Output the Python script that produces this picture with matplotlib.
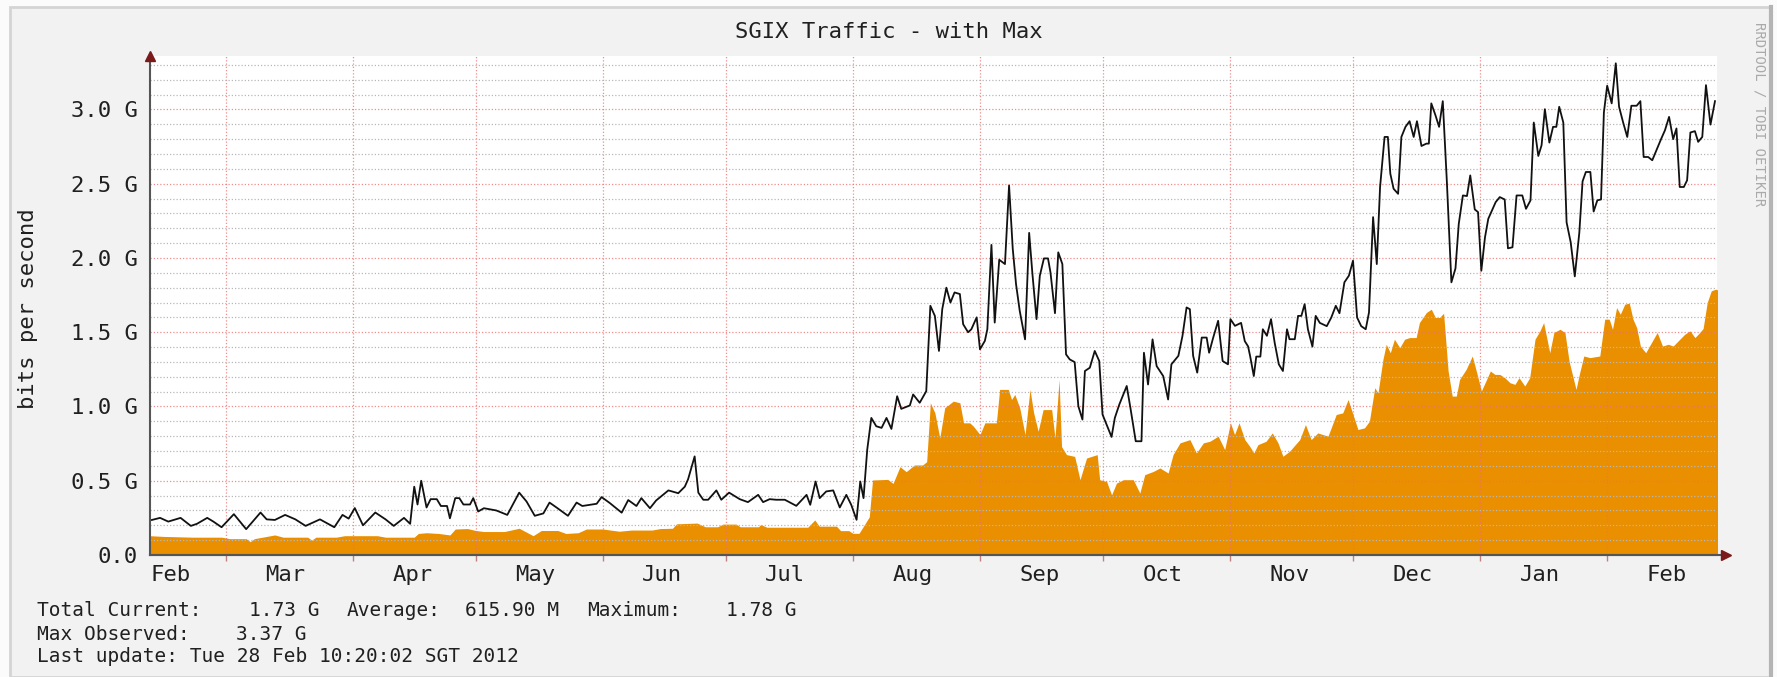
import matplotlib
matplotlib.use("Agg")
import matplotlib.pyplot as plt
import matplotlib.dates as mdates
from matplotlib.patches import Rectangle
from matplotlib.lines import Line2D
import numpy as np
import pandas as pd

# ---- data, days counted from 2011-02-11, values in Gbit/s
START = "2011-02-11"
X_FROM = "2011-02-10 13:00"
X_TO = "2012-02-27 19:00"

max_days = [0, 2, 4, 7, 9.5, 11, 13.5, 15, 17, 20, 23, 26.5, 28, 30, 32.5, 35, 37.5, 41, 44.5, 46.5,
            48, 49.5, 51.5, 54.5, 57, 59, 61.5, 63, 64, 64.8, 65.7, 67,
            68, 69.5, 70.5, 72, 72.7, 74, 75, 76, 77.6, 78.4, 79.6, 81, 84, 86.7, 89.6, 91.4, 93.4, 95.5,
            97, 98.7, 101.5, 103.6, 105, 108.5, 109.7, 111.7, 114.6, 116.2, 118.2, 119.4, 121.5, 123, 126,
            128.4, 130, 130.8, 132.4, 133.3,
            134.5, 135.7, 137.7, 138.9, 140.8, 143.4, 145.4, 147.9, 149.1, 150.7, 152.3, 154.4, 157.2,
            159.7, 160.6, 161.9, 162.9, 164.5, 166.2, 167.8, 169.4, 170.6, 171.9, 172.8, 173.6, 174.5,
            175.5, 176.7, 178, 179.2, 180.4, 181.8, 182.8, 184.9, 185.7, 187.3, 188.9, 189.9, 191, 192,
            192.8, 193.8, 194.8, 195.8,
            197.1, 197.9, 199.1, 199.9, 201.2, 202, 203.2, 203.8, 204.8, 205.6, 206.7, 208.1, 209.1, 210,
            210.8, 211.7, 213, 214, 214.8, 215.8, 216.6, 217.6, 218.6, 219.2, 220.3, 221.1, 222.1, 223,
            223.9, 225.1, 226, 227, 227.6, 228.8, 230, 231.1, 231.9, 232.9, 234.1, 234.9, 236, 237.8,
            238.7, 240, 241.4, 242, 243, 244.1, 245.1, 246.7, 247.9, 248.7, 250.4, 251.4, 252.4, 253.2,
            254, 255, 256.1, 257.3, 257.9, 258.9, 260.1, 261.2, 262.5, 263.1, 264.2,
            265.7, 266.6, 267.4, 267.9, 268.8, 269.4, 270.4, 271, 272, 273, 273.9, 274.9, 275.9, 276.9,
            277.5, 278.8, 279.6, 280.4, 281.2, 282, 283.1, 283.9, 284.9, 286.6, 287.7, 288.8, 289.7,
            290.9, 292, 293, 294, 295, 296.1, 296.9, 297.9, 298.8, 299.6, 300.7, 301.5, 302.1, 302.9,
            304, 304.8, 305.8, 306.8, 307.8, 308.6, 309.7, 310.9, 311.5, 312.1, 313.1, 314, 314.9,
            315.9, 317, 318, 318.8, 319.8, 320.8, 321.6,
            322.7, 323.5, 324.3, 325.2, 326, 326.8, 327.8, 328.8, 330, 330.8, 331.9, 332.9, 334.3,
            335.2, 336.3, 337.1, 338.2, 339, 339.8, 340.9, 341.8, 342.6, 343.3, 344.3, 345.1, 346.1,
            347.1, 348.2, 349, 349.8, 350.9, 351.7, 352.6, 353.5, 354.2, 355, 356.1, 357.1, 357.9,
            358.9, 359.9, 360.9, 362.2, 363.1, 363.9, 365, 366, 367, 368.2, 369.1, 370.1, 371.1,
            371.9, 372.7, 373.7, 374.5, 375.3, 376.4, 377.2, 378.2, 379.1, 380.2, 381.3]
max_gbps = [0.236, 0.25, 0.225, 0.25, 0.196, 0.21, 0.25, 0.225, 0.187, 0.275, 0.174, 0.286, 0.24, 0.236,
            0.27, 0.24, 0.196, 0.24, 0.187, 0.27, 0.245, 0.316, 0.2, 0.286, 0.24, 0.196, 0.25, 0.21,
            0.46, 0.34, 0.5, 0.32,
            0.376, 0.376, 0.33, 0.33, 0.247, 0.383, 0.383, 0.34, 0.34, 0.383, 0.293, 0.315, 0.3, 0.27,
            0.42, 0.36, 0.264, 0.28, 0.353, 0.32, 0.264, 0.353, 0.33, 0.345, 0.39, 0.35, 0.285, 0.37,
            0.33, 0.383, 0.315, 0.367, 0.435, 0.416, 0.46, 0.51, 0.664, 0.42,
            0.372, 0.372, 0.435, 0.372, 0.42, 0.376, 0.356, 0.405, 0.356, 0.376, 0.372, 0.372, 0.331,
            0.405, 0.338, 0.495, 0.383, 0.428, 0.435, 0.32, 0.405, 0.338, 0.237, 0.495, 0.383, 0.709,
            0.923, 0.867, 0.856, 0.923, 0.849, 1.069, 0.984, 1.007, 1.081, 1.025, 1.103, 1.678, 1.61,
            1.374, 1.655, 1.8, 1.7, 1.768,
            1.757, 1.554, 1.5, 1.52, 1.6, 1.385, 1.442, 1.52, 2.088, 1.565, 1.988, 1.959, 2.488, 2.061,
            1.824, 1.644, 1.452, 2.169, 1.892, 1.588, 1.88, 1.997, 1.997, 1.903, 1.628, 2.038, 1.959,
            1.351, 1.317, 1.299, 1.002, 0.912, 1.239, 1.261, 1.374, 1.306, 0.946, 0.878, 0.795, 0.923,
            1.014, 1.138, 0.991, 0.766, 0.766, 1.362, 1.148, 1.452, 1.272, 1.205, 1.047, 1.284, 1.341,
            1.475, 1.667, 1.655, 1.341, 1.228, 1.464, 1.464, 1.362, 1.464, 1.577, 1.306, 1.284, 1.588,
            1.543,
            1.563, 1.44, 1.405, 1.34, 1.205, 1.336, 1.336, 1.52, 1.476, 1.588, 1.428, 1.284, 1.239, 1.52,
            1.453, 1.453, 1.61, 1.61, 1.689, 1.52, 1.403, 1.61, 1.563, 1.541, 1.599, 1.678, 1.628,
            1.836, 1.881, 1.982, 1.599, 1.541, 1.52, 1.633, 2.275, 1.959, 2.477, 2.815, 2.815, 2.568,
            2.466, 2.432, 2.815, 2.883, 2.921, 2.815, 2.921, 2.754, 2.77, 2.77, 3.041, 2.962, 2.883,
            3.056, 2.511, 1.836, 1.93, 2.23, 2.421, 2.417, 2.556,
            2.327, 2.309, 1.914, 2.14, 2.264, 2.313, 2.376, 2.41, 2.394, 2.065, 2.072, 2.421, 2.421,
            2.331, 2.388, 2.912, 2.687, 2.759, 3.002, 2.777, 2.883, 2.883, 3.018, 2.912, 2.24, 2.106,
            1.876, 2.169, 2.516, 2.579, 2.579, 2.313, 2.388, 2.394, 2.98, 3.16, 3.041, 3.311, 3.018,
            2.912, 2.815, 3.025, 3.025, 3.056, 2.68, 2.68, 2.658, 2.725, 2.804, 2.86, 2.95, 2.8,
            2.872, 2.478, 2.478, 2.523, 2.845, 2.854, 2.782, 2.815, 3.164, 2.898, 3.056]

avg_days = [-0.5, 3, 10, 17, 19, 23, 24, 25, 27, 30, 32, 38, 39, 40, 45, 47, 55, 57, 64, 65, 67,
            70, 72.7, 74, 77, 79, 81, 86, 89.6, 93, 95, 99, 101, 104, 106, 110, 114, 117, 122, 124,
            127, 128, 133,
            135, 138, 139.3, 142.5, 143.5, 148, 148.5, 150, 160, 161.7, 162.8, 167, 168, 170, 171,
            172.5, 173.5, 175, 175.8, 179.5, 180.8, 182.5, 184, 186, 188, 189, 189.9, 191, 192.2,
            193.4, 195.5,
            197.1, 198, 199.5, 200.4, 202, 203.2, 206, 206.8, 208.9, 209.7, 210.5, 211.7, 213, 214.2,
            215.1, 216.2, 217.4, 219.5, 220.3, 221.3, 221.9, 223.1, 225.1, 226.4, 228, 230.6, 231.2,
            232.9, 234.1, 235.3, 237, 239.4, 241, 242.2, 244.3, 245.9, 247.9, 249.1, 250.8, 253.2,
            254.8, 256.5, 258.1, 260.1, 261.7, 263.1,
            264.1, 265.2, 266.6, 267.8, 268.8, 269.8, 271.8, 273.3, 274.7, 275.9, 277.5, 280, 281.4,
            282.8, 284.4, 286.9, 288.9, 290.5, 291.8, 293, 294.2, 295.8, 297, 298.3, 299.1, 300.3,
            301.1, 302.1, 303.1, 304.4, 305.6, 306.8, 308.4, 309.2, 310.9, 312.1, 313.1, 314.1,
            315.1, 316.2, 317.2, 318.2, 319, 320.6, 322.1,
            323.5, 324.3, 325.6, 326.5, 327.6, 328.8, 330, 331.3, 332.5, 333.5, 334.9, 336.1, 337.4,
            338.6, 339.5, 341, 342, 343.5, 344.7, 345.7, 347.4, 348.3, 349.3, 350.8, 353.2, 354.4,
            355.5, 356.3, 357.3, 358.2, 359.3, 360.4, 361.3, 362.2, 363.1, 364.4, 365.8, 367.2,
            368.5, 369.9, 371.1, 372.3, 373.9, 375.2, 376.4, 377.6, 378.4, 379.4, 380.4, 381.5, 382.3]
avg_gbps = [0.13, 0.125, 0.12, 0.12, 0.11, 0.11, 0.09, 0.11, 0.12, 0.135, 0.12, 0.12, 0.1, 0.12, 0.12,
            0.13, 0.13, 0.12, 0.12, 0.145, 0.15,
            0.145, 0.135, 0.175, 0.178, 0.165, 0.158, 0.158, 0.18, 0.13, 0.165, 0.165, 0.145, 0.15,
            0.175, 0.175, 0.16, 0.168, 0.168, 0.178, 0.18, 0.21, 0.215,
            0.19, 0.19, 0.208, 0.208, 0.19, 0.19, 0.205, 0.187, 0.187, 0.236, 0.194, 0.194, 0.164,
            0.164, 0.146, 0.146, 0.19, 0.257, 0.505, 0.509, 0.482, 0.595, 0.561, 0.606, 0.606, 0.628,
            1.025, 0.957, 0.788, 0.991, 1.036,
            1.025, 0.89, 0.89, 0.867, 0.811, 0.89, 0.89, 1.115, 1.115, 1.047, 1.081, 0.991, 0.811,
            1.115, 0.957, 0.833, 0.979, 0.979, 0.788, 1.182, 0.73, 0.676, 0.664, 0.507, 0.653, 0.676,
            0.507, 0.495, 0.405, 0.484, 0.507, 0.507, 0.417, 0.541, 0.563, 0.586, 0.552, 0.676, 0.755,
            0.777, 0.687, 0.755, 0.766, 0.8, 0.71, 0.89,
            0.811, 0.89, 0.777, 0.732, 0.687, 0.743, 0.766, 0.822, 0.755, 0.665, 0.698, 0.777, 0.878,
            0.777, 0.822, 0.8, 0.946, 0.957, 1.047, 0.946, 0.845, 0.856, 0.901, 1.126, 1.092, 1.317,
            1.419, 1.362, 1.453, 1.396, 1.453, 1.464, 1.464, 1.565, 1.633, 1.655, 1.599, 1.599,
            1.628, 1.239, 1.07, 1.07, 1.182, 1.25, 1.34,
            1.194, 1.104, 1.183, 1.239, 1.216, 1.216, 1.194, 1.16, 1.149, 1.194, 1.138, 1.194, 1.453,
            1.509, 1.565, 1.362, 1.498, 1.52, 1.498, 1.306, 1.115, 1.228, 1.34, 1.329, 1.34, 1.588,
            1.588, 1.52, 1.666, 1.621, 1.689, 1.696, 1.588, 1.531, 1.407, 1.362, 1.43, 1.498, 1.407,
            1.419, 1.407, 1.441, 1.486, 1.509, 1.464, 1.498, 1.525, 1.7, 1.779, 1.79, 1.78]

month_names = ["Feb", "Mar", "Apr", "May", "Jun", "Jul", "Aug", "Sep", "Oct", "Nov", "Dec", "Jan", "Feb"]
y_ticks = [0.0, 0.5, 1.0, 1.5, 2.0, 2.5, 3.0]
y_labels = ["0.0", "0.5 G", "1.0 G", "1.5 G", "2.0 G", "2.5 G", "3.0 G"]

title = "SGIX Traffic - with Max"
legend_rows = [
    [(37, "Total Current:"), (249, "1.73 G"), (347, "Average:"), (465, "615.90 M"),
     (587, "Maximum:"), (726, "1.78 G")],
    [(37, "Max Observed:"), (236, "3.37 G")],
    [(37, "Last update: Tue 28 Feb 10:20:02 SGT 2012")],
]

# ---- figure
W, H = 1777, 677
MONO = "DejaVu Sans Mono"
fig = plt.figure(figsize=(W / 100, H / 100), dpi=100)
fig.patch.set_facecolor("#FBFBFB")

# rrd canvas frame, kept behind the axes
fig.add_artist(Rectangle((10 / W, 0), 1760 / W, 670 / H, transform=fig.transFigure,
                         facecolor="#F2F2F2", edgecolor="#D4D4D4", lw=2, zorder=-10))
fig.add_artist(Line2D([1771 / W, 1771 / W], [0, 670 / H], transform=fig.transFigure,
                      color="#B4B4B4", lw=3, zorder=-9))

left, right, top, bottom = 150, 1717, 56, 555
ax = fig.add_axes([left / W, 1 - bottom / H, (right - left) / W, (bottom - top) / H])
ax.set_facecolor("white")

t0 = pd.Timestamp(START)
max_t = t0 + pd.to_timedelta(max_days, unit="D")
avg_t = t0 + pd.to_timedelta(avg_days, unit="D")

ax.fill_between(avg_t, 0, avg_gbps, color="#EA8F00", lw=0, zorder=1)
ax.plot(max_t, max_gbps, color="#111111", lw=1.3, zorder=4)

ax.set_xlim(pd.Timestamp(X_FROM), pd.Timestamp(X_TO))
ax.set_ylim(0, 3.36)

# grids: minor grey every 0.1 G, major red every 0.5 G and at month starts
ax.set_axisbelow(False)
ax.yaxis.set_minor_locator(plt.MultipleLocator(0.1))
ax.set_yticks(y_ticks)
ax.set_yticklabels(y_labels)
ax.grid(which="minor", axis="y", color="#B8B8B8", lw=0.9, ls=(0, (1, 1.6)))
ax.grid(which="major", axis="y", color="#F07070", lw=0.9, ls=(0, (1, 1.6)), alpha=0.8)

ax.xaxis.set_major_locator(mdates.MonthLocator())
ax.xaxis.set_major_formatter(plt.NullFormatter())
ax.grid(which="major", axis="x", color="#F07070", lw=0.9, ls=(0, (1, 1.6)), alpha=0.8)

mid_months = pd.date_range("2011-02-01", periods=len(month_names), freq="MS") + pd.Timedelta(days=14, hours=12)
ax.xaxis.set_minor_locator(plt.FixedLocator(mdates.date2num(mid_months)))
ax.xaxis.set_minor_formatter(plt.FixedFormatter(month_names))

ax.tick_params(axis="x", which="major", length=4, color="#C08080", width=1, direction="out")
ax.tick_params(axis="x", which="minor", length=0, pad=7, labelsize=16)
ax.tick_params(axis="y", which="both", length=0, pad=9, labelsize=16)
for lab in ax.get_xticklabels(minor=True) + ax.get_yticklabels():
    lab.set_family(MONO)
    lab.set_color("#202020")

for s in ["top", "right"]:
    ax.spines[s].set_visible(False)
for s in ["left", "bottom"]:
    ax.spines[s].set_color("#555555")
    ax.spines[s].set_linewidth(1.5)
    ax.spines[s].set_zorder(5)

# arrow heads of the rrd axes
ax.plot([0], [1.0], marker="^", ms=7, color="#7A1A1A", transform=ax.transAxes, clip_on=False, zorder=6)
ax.plot([0, 1.006], [0, 0], color="#555555", lw=1.5, transform=ax.transAxes, clip_on=False, zorder=5)
ax.plot([1.006], [0], marker=">", ms=7, color="#7A1A1A", transform=ax.transAxes, clip_on=False, zorder=6)

# texts
fig.text(0.5, 1 - 32 / H, title, ha="center", va="center", fontsize=16, family=MONO, color="#202020")
fig.text(28 / W, 1 - 309 / H, "bits per second", rotation=90, ha="center", va="center",
         fontsize=16, family=MONO, color="#202020")
fig.text(1759 / W, 1 - 22 / H, "RRDTOOL / TOBI OETIKER", rotation=270, ha="center", va="top",
         fontsize=10, family=MONO, color="#AAAAAA")

for row_y, row in zip([610, 634, 656], legend_rows):
    for x, txt in row:
        fig.text(x / W, 1 - row_y / H, txt, ha="left", va="center", fontsize=14,
                 family=MONO, color="#202020")

fig.savefig("out.png", dpi=100, facecolor=fig.get_facecolor())
